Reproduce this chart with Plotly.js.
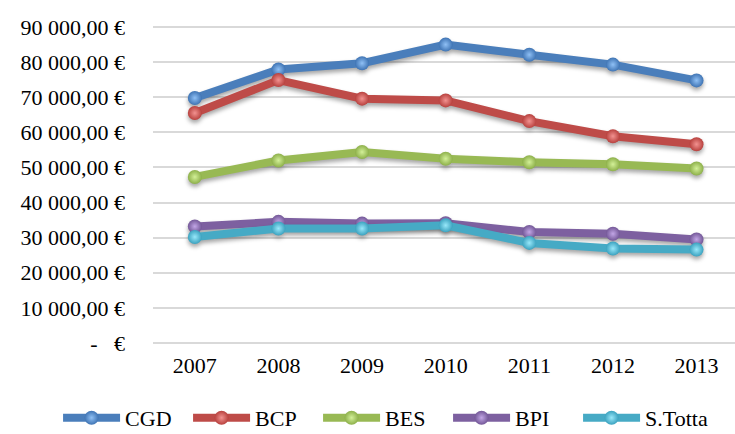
<!DOCTYPE html>
<html>
<head>
<meta charset="utf-8">
<script src="https://cdn.plot.ly/plotly-3.0.1.min.js"></script>
<style>
  html, body { margin: 0; padding: 0; background: #ffffff; }
  #chart { width: 735px; height: 434px; }
  /* soft shadow under every line and marker */
  .scatterlayer .trace { filter: drop-shadow(0px 3px 2px rgba(0,0,0,0.35)); }
</style>
</head>
<body>
<div id="chart"></div>
<script>
// Years on the category axis
const years = ['2007', '2008', '2009', '2010', '2011', '2012', '2013'];

// Values per bank (EUR)
const cgd    = [69800, 77900, 79700, 85000, 82100, 79300, 74800];
const bcp    = [65500, 74900, 69600, 69100, 63200, 58900, 56600];
const bes    = [47300, 52000, 54400, 52500, 51500, 50900, 49700];
const bpi    = [33200, 34500, 34000, 34100, 31600, 31100, 29500];
const stotta = [30200, 32600, 32600, 33500, 28500, 26900, 26600];

// Y axis ticks and their labels
const yTickVals = [0, 10000, 20000, 30000, 40000, 50000, 60000, 70000, 80000, 90000];
const yTickText = ['-\u00a0\u00a0\u00a0€', '10 000,00 €', '20 000,00 €', '30 000,00 €', '40 000,00 €',
                   '50 000,00 €', '60 000,00 €', '70 000,00 €', '80 000,00 €', '90 000,00 €'];

const series = [
  { name: 'CGD',     y: cgd,    color: '#3f74b4', light: '#8fc0f5' },
  { name: 'BCP',     y: bcp,    color: '#b8413e', light: '#f29290' },
  { name: 'BES',     y: bes,    color: '#8db04a', light: '#d3f098' },
  { name: 'BPI',     y: bpi,    color: '#735797', light: '#c2a6e6' },
  { name: 'S.Totta', y: stotta, color: '#3ba2bf', light: '#98e8fa' }
];

const lineColors = ['#4a7ebb', '#be4b48', '#98b954', '#7d60a0', '#46aac5'];

const traces = series.map((s, i) => ({
  type: 'scatter',
  mode: 'lines+markers',
  name: s.name,
  x: years,
  y: s.y,
  line: { color: lineColors[i], width: 8 },
  marker: {
    size: 14,
    color: s.color,
    line: { width: 0 },
    gradient: { type: 'radial', color: s.light }
  },
  hoverinfo: 'skip'
}));

const font = 'Liberation Serif, Times New Roman, serif';

const layout = {
  width: 735,
  height: 434,
  // the plot spans the full width so the one-row legend has room;
  // the x domain leaves space for the y tick labels on the left
  margin: { l: 0, r: 0, t: 26, b: 90 },
  paper_bgcolor: '#ffffff',
  plot_bgcolor: 'rgba(0,0,0,0)',
  showlegend: true,
  font: { family: font, size: 22, color: '#000000' },
  xaxis: {
    type: 'category',
    domain: [0.2082, 1],
    range: [-0.5, 6.46],
    showgrid: false,
    zeroline: false,
    showline: false,
    ticks: '',
    tickfont: { family: font, size: 22, color: '#000000' },
    ticklabelstandoff: 6
  },
  yaxis: {
    range: [-300, 90300],
    tickmode: 'array',
    tickvals: yTickVals,
    ticktext: yTickText,
    showgrid: true,
    gridcolor: '#d9d9d9',
    gridwidth: 2,
    zeroline: false,
    showline: false,
    ticks: '',
    tickfont: { family: font, size: 22, color: '#000000' },
    ticklabelstandoff: 27
  },
  legend: {
    orientation: 'h',
    xref: 'container',
    yref: 'container',
    x: 0.079,
    xanchor: 'left',
    y: 0.037,
    yanchor: 'middle',
    itemwidth: 57,
    entrywidth: 58,
    entrywidthmode: 'pixels',
    font: { family: font, size: 22, color: '#000000' },
    bgcolor: 'rgba(0,0,0,0)'
  }
};

Plotly.newPlot('chart', traces, layout, { staticPlot: true, displayModeBar: false });
</script>
</body>
</html>
